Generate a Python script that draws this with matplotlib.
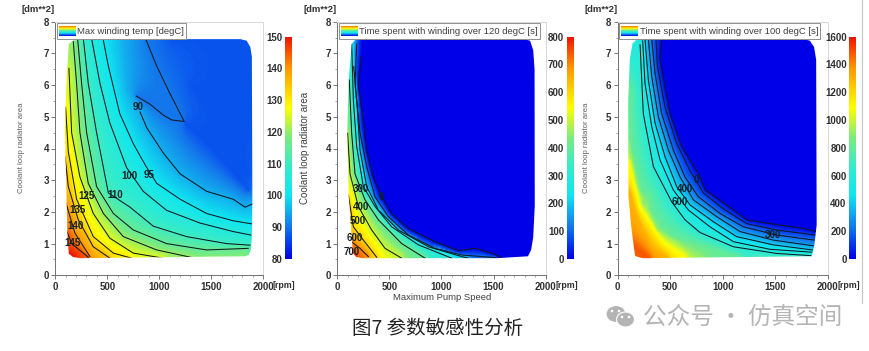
import numpy as np
import matplotlib
matplotlib.use("Agg")
import matplotlib.pyplot as plt
from matplotlib.colors import LinearSegmentedColormap
from matplotlib.patches import Ellipse, PathPatch, Rectangle
from matplotlib.path import Path
from matplotlib.ticker import MultipleLocator

W, H = 870, 351
BODY = ["Liberation Sans", "DejaVu Sans"]
CJK = ["Noto Sans CJK SC", "DejaVu Sans"]

# ---------- readings from the picture: (rpm, dm**2) along each contour ----------
temp_90a = [(870,7.45),(975,6.6),(1100,5.75),(1240,4.85),(1120,4.9),(1040,5.05),(910,5.4),(780,5.65)]
temp_95 = [(815,5.15),(880,4.65),(1040,3.85),(1200,3.2),(1455,2.65),(1710,2.4),(1825,2.15),(1895,2.25)]
temp_100 = [(460,7.45),(510,6.6),(620,5.1),(750,4.15),(870,3.45),(975,2.9),(1200,2.4),(1455,1.95),(1710,1.72),(1895,1.62)]
temp_105 = [(350,7.45),(430,6.05),(525,4.8),(685,3.4),(845,2.65),(1070,2.05),(1390,1.65),(1710,1.38),(1880,1.27)]
temp_110 = [(270,7.45),(317,6.05),(397,4.5),(510,2.6),(718,2.15),(942,1.55),(1263,1.22),(1647,1.0),(1872,.95)]
temp_115 = [(215,7.45),(253,6.05),(301,4.5),(397,2.8),(558,1.95),(750,1.43),(1070,1.0),(1455,.8),(1855,.85)]
temp_120 = [(173,7.37),(205,6.05),(237,4.5),(317,2.9),(462,1.95),(654,1.22),(975,.8),(1343,.54)]
temp_125 = [(131,6.53),(157,4.5),(237,3.1),(365,1.95),(525,1.17),(750,.7),(1038,.54)]
temp_130 = [(99,5.3),(125,3.9),(205,2.4),(365,1.22),(558,.7),(734,.54)]
temp_135 = [(93,3.75),(125,2.8),(221,1.75),(365,.9),(525,.54)]
temp_140 = [(93,2.38),(189,1.33),(333,.59)]
temp_145 = [(100,1.48),(157,1.0),(317,.57)]
temp_levels = [90,95,100,105,110,115,120,125,130,135,140,145]
temp_lines = [temp_90a,temp_95,temp_100,temp_105,temp_110,temp_115,temp_120,temp_125,temp_130,temp_135,temp_140,temp_145]
# colour-only readings (no line drawn in the reference)
temp_fill_87a = [(1300,6.0),(1700,4.5),(1860,3.2)]
temp_fill_87b = [(1100,7.45),(1880,7.45),(1895,4.5)]
temp_fill_87c = [(1250,4.8),(1500,4.0),(1860,2.7)]
temp_fill_95 = [(660,7.45),(700,5.8),(815,5.15)]
temp_fill_119 = [(1343,.54),(1840,.55)]
temp_fill_150 = [(110,.7),(200,.52)]
temp_fill = [(temp_fill_87a,87),(temp_fill_87b,87),(temp_fill_87c,87),(temp_fill_95,95),(temp_fill_119,119),(temp_fill_150,150)]
temp_outline = [(237,7.45),(1780,7.45),(1840,7.4),(1875,7.2),(1890,6.9),(1895,2.4),(1890,1.2),(1880,.8),(1860,.65),(1830,.6),(237,.54),(170,.58),(130,.68),(118,1.2),(93,4.5),(105,6.0),(130,7.3),(170,7.4)]
temp_labels = [("90",800,5.3),("95",900,3.15),("100",715,3.12),("110",580,2.53),("125",300,2.5),("135",210,2.05),("140",190,1.57),("145",170,1.03)]

t120_0 = [(234,6.9),(202,6.05),(250,4.9),(282,3.95),(346,3.1),(426,2.48),(522,1.95),(682,1.48),(938,1.06),(1162,.78),(1322,.85),(1482,.7),(1578,.56)]
t120_100 = [(186,7.3),(170,6.05),(218,4.5),(282,3.43),(362,2.48),(490,1.85),(682,1.27),(938,.85),(1194,.64),(1514,.56)]
t120_200 = [(157,6.58),(186,5.53),(218,3.95),(282,2.8),(394,2.06),(586,1.43),(874,.9),(1194,.59),(1260,.54)]
t120_300 = [(138,7.3),(154,5.53),(186,4.06),(250,2.8),(362,2.17),(522,1.53),(778,.96),(1098,.54)]
t120_400 = [(115,6.16),(138,4.48),(170,3.2),(266,2.38),(394,1.75),(618,1.0),(842,.54)]
t120_500 = [(99,4.48),(122,3.2),(202,2.17),(330,1.43),(458,.85),(618,.54)]
t120_600 = [(106,2.53),(154,1.53),(250,1.11),(378,.57)]
t120_700 = [(120,1.1),(218,.85),(298,.59)]
t120_levels = [0,100,200,300,400,500,600,700]
t120_lines = [t120_0,t120_100,t120_200,t120_300,t120_400,t120_500,t120_600,t120_700]
t120_fill_780 = [(120,.7),(190,.52)]
t120_fill_0a = [(234,6.9),(240,7.45),(1895,7.45),(1895,.56),(1578,.56)]
t120_fill_0b = [(350,6.0),(1800,6.0),(1800,1.0),(1000,1.6),(600,3.0),(350,6.0)]
t120_fill = [(t120_fill_780,780),(t120_fill_0a,0),(t120_fill_0b,0)]
t120_outline = [(210,7.45),(1790,7.45),(1850,7.4),(1880,7.1),(1893,6.5),(1895,2.2),(1880,1.2),(1860,.8),(1830,.6),(1530,.54),(240,.54),(180,.58),(150,.7),(110,2.5),(95,4.5),(110,6.2),(138,7.3),(170,7.42)]
t120_labels = [("300",230,2.73),("400",225,2.17),("500",200,1.7),("600",170,1.17),("700",140,.74),("0",420,2.47)]

t100_0 = [(419,7.45),(403,6.8),(451,5.95),(498,5.1),(610,4.06),(768,3.22),(832,2.7),(1038,2.22),(1229,1.75),(1514,1.6),(1768,1.48),(1895,1.38)]
t100_100 = [(365,7.45),(378,6.6),(451,5.3),(562,4.16),(689,3.3),(816,2.6),(1006,2.1),(1229,1.63),(1514,1.43),(1880,1.27)]
t100_200 = [(324,7.45),(356,6.37),(419,5.1),(530,3.95),(641,3.1),(768,2.48),(975,1.95),(1197,1.53),(1514,1.27),(1873,1.11)]
t100_300 = [(292,7.45),(324,6.27),(387,5.0),(483,3.95),(594,3.1),(721,2.38),(943,1.85),(1165,1.38),(1483,1.11),(1863,.93)]
t100_400 = [(260,7.45),(292,6.16),(356,4.8),(451,3.74),(562,2.8),(689,2.22),(911,1.69),(1133,1.22),(1483,.96),(1854,.8)]
t100_500 = [(238,7.4),(260,6.05),(324,4.69),(403,3.64),(530,2.69),(673,2.06),(879,1.53),(1102,1.06),(1451,.82),(1848,.73)]
t100_600 = [(213,7.27),(244,5.1),(340,3.43),(514,2.32),(641,1.75),(784,1.35),(1102,.9),(1514,.69),(1838,.62)]
t100_levels = [0,100,200,300,400,500,600]
t100_lines = [t100_0,t100_100,t100_200,t100_300,t100_400,t100_500,t100_600]
t100_fill_0a = [(419,7.45),(1895,7.45),(1895,1.38)]
t100_fill_0b = [(600,6.5),(1800,6.5),(1800,2.0),(1100,2.6),(700,4.0),(600,6.5)]
t100_fill_700a = [(1250,.54),(1840,.56)]
t100_fill_800 = [(102,6.0),(130,4.0),(250,2.3),(500,1.25),(1150,.54)]
t100_fill_900 = [(102,4.2),(190,2.8),(380,1.43),(820,.54)]
t100_fill_1100 = [(102,3.6),(205,2.1),(430,1.0),(640,.54)]
t100_fill_1300 = [(102,2.7),(190,1.7),(330,.85),(470,.54)]
t100_fill_1480 = [(120,1.0),(300,.52)]
t100_fill = [(t100_fill_0a,0),(t100_fill_0b,0),(t100_fill_700a,700),(t100_fill_800,800),(t100_fill_900,900),(t100_fill_1100,1100),(t100_fill_1300,1300),(t100_fill_1480,1480)]
t100_outline = [(215,7.45),(1770,7.45),(1830,7.4),(1870,7.2),(1890,6.8),(1895,1.6),(1875,1.0),(1850,.6),(240,.54),(190,.58),(165,.62),(130,1.5),(102,2.5),(100,5.5),(115,6.8),(140,7.3),(175,7.42)]
t100_labels = [("0",745,3.0),("400",645,2.72),("600",590,2.3),("300",1480,1.27)]

cbar_pos = [0,.1,.143,.286,.4,.54,.68,.857,1]
cbar_rgb = ["#0000e8","#0a55ee","#1478eb","#10e6f0","#30ebd0","#78eb82","#ffff00","#ff9800","#f01000"]


def fx(px):
    return px / W


def fy(py):
    return 1 - py / H


def rasterise(segments, nx, ny):
    """Cell values of the read contours on an nx-by-ny raster over the axes range."""
    val = np.full((ny, nx), np.nan)
    for line, lev in segments:
        a = np.array(line, float)
        for (x0, y0), (x1, y1) in zip(a[:-1], a[1:]):
            t = np.linspace(0, 1, 200)
            ix = np.clip(((x0 + (x1 - x0) * t) / 2000 * nx).astype(int), 0, nx - 1)
            iy = np.clip(((y0 + (y1 - y0) * t) / 8 * ny).astype(int), 0, ny - 1)
            val[iy, ix] = lev
    return val


def field_between_contours(segments):
    """Smooth colour surface that passes through every read contour (Laplace relaxation)."""
    z = None
    for nx, ny, steps in [(60, 48, 2500), (120, 96, 1000), (240, 192, 600)]:
        fixed = rasterise(segments, nx, ny)
        mask = ~np.isnan(fixed)
        if z is None:
            z = np.full((ny, nx), np.nanmean(fixed))
        else:
            z = np.repeat(np.repeat(z, 2, axis=0), 2, axis=1)
        z[mask] = fixed[mask]
        for _ in range(steps):
            p = np.pad(z, 1, mode="edge")
            z = 0.25 * (p[:-2, 1:-1] + p[2:, 1:-1] + p[1:-1, :-2] + p[1:-1, 2:])
            z[mask] = fixed[mask]
    return z


jetlike = LinearSegmentedColormap.from_list("solver", list(zip(cbar_pos, cbar_rgb)), N=256)
plt.rcParams["font.family"] = BODY
fig = plt.figure(figsize=(W / 100, H / 100), dpi=100, facecolor="white")


def panel(x0, x1, lines, levels, fill, outline, labels, vmin, vmax, ticks,
          legend, legend_box, legend_text_x, cbar_x, dm_x, rpm_x):
    ax = fig.add_axes([fx(x0), fy(275.3), fx(x1 - x0), (275.3 - 21.7) / H])
    z = field_between_contours(list(zip(lines, levels)) + list(fill))
    im = ax.imshow(z, origin="lower", extent=(0, 2000, 0, 8), aspect="auto", cmap=jetlike,
                   vmin=vmin, vmax=vmax, interpolation="bilinear")
    ax.set_xlim(0, 2000)
    ax.set_ylim(0, 8)
    clip = PathPatch(Path(outline + [outline[0]], closed=True), transform=ax.transData, fc="none", ec="none")
    ax.add_patch(clip)
    im.set_clip_path(clip)
    for line in lines:
        a = np.array(line)
        l, = ax.plot(a[:, 0], a[:, 1], color="#101820", lw=0.75, zorder=3)
        l.set_clip_path(clip)
    for s, x, y in labels:
        ax.text(x, y, s, fontsize=7, fontweight="bold", color="#102028", ha="center", va="center", zorder=4)
    for side in ("top", "right"):
        ax.spines[side].set_color("#d8d8d8")
    for side in ("left", "bottom"):
        ax.spines[side].set_color("#707070")
    for sp in ax.spines.values():
        sp.set_linewidth(0.7)
    ax.xaxis.set_major_locator(MultipleLocator(500))
    ax.xaxis.set_minor_locator(MultipleLocator(100))
    ax.yaxis.set_major_locator(MultipleLocator(1))
    ax.yaxis.set_minor_locator(MultipleLocator(0.5))
    ax.tick_params(which="major", length=3, width=0.6, color="#606060", labelsize=7, pad=1.5, labelcolor="#303030")
    ax.tick_params(which="minor", length=1.5, width=0.5, color="#808080")
    plt.setp(ax.get_xticklabels() + ax.get_yticklabels(), fontweight="bold")

    # legend box
    bx0, bx1 = legend_box
    fig.add_artist(Rectangle((fx(bx0), fy(39)), fx(bx1 - bx0), 16.3 / H, transform=fig.transFigure,
                             fc="white", ec="#909090", lw=0.7, zorder=5))
    sw = fig.add_axes([fx(bx0 + 2), fy(36), fx(16.5), 10.3 / H], zorder=6)
    sw.imshow(np.linspace(1, 0, 64)[:, None], aspect="auto", cmap=jetlike, vmin=0, vmax=1)
    sw.axis("off")
    fig.text(fx(legend_text_x), fy(31.5), legend, fontsize=6.8, color="#404040", va="center", zorder=7)

    # colour bar
    cax = fig.add_axes([fx(cbar_x), fy(259), fx(6.3), (259 - 36.7) / H])
    cax.imshow(np.linspace(vmax, vmin, 256)[:, None], aspect="auto", cmap=jetlike, vmin=vmin, vmax=vmax,
               extent=(0, 1, vmin, vmax))
    cax.set_xticks([])
    cax.set_yticks(ticks)
    cax.tick_params(axis="y", length=0, pad=2, labelsize=7, labelcolor="#303030")
    plt.setp(cax.get_yticklabels(), fontweight="bold")
    for sp in cax.spines.values():
        sp.set_visible(False)

    fig.text(fx(dm_x), fy(9), "[dm**2]", fontsize=6.8, fontweight="bold", color="#303030", ha="center", va="center")
    fig.text(fx(rpm_x), fy(286), "[rpm]", fontsize=6.4, fontweight="bold", color="#303030", ha="center", va="center")
    return ax


panel(55.3, 263.3, temp_lines, temp_levels, temp_fill, temp_outline, temp_labels,
      80, 150, [80,90,100,110,120,130,140,150], "Max winding temp [degC]", (56.7, 186), 77, 285, 37.7, 284)
panel(337.3, 545.7, t120_lines, t120_levels, t120_fill, t120_outline, t120_labels,
      0, 800, [0,100,200,300,400,500,600,700,800], "Time spent with winding over 120 degC [s]", (339.3, 540), 359, 567, 320, 566.7)
panel(617.7, 827.7, t100_lines, t100_levels, t100_fill, t100_outline, t100_labels,
      0, 1600, [0,200,400,600,800,1000,1200,1400,1600], "Time spent with winding over 100 degC [s]", (619.3, 820), 640, 849.3, 600.7, 849)

# axis titles
fig.text(fx(22), fy(148), "Coolant loop radiator area", rotation=90, fontsize=5.6, color="#606060", ha="center", va="center")
fig.text(fx(305), fy(148), "Coolant loop radiator area", rotation=90, fontsize=7, color="#404040", ha="center", va="center")
fig.text(fx(586.7), fy(148), "Coolant loop radiator area", rotation=90, fontsize=5.6, color="#606060", ha="center", va="center")
fig.text(fx(441.7), fy(297), "Maximum Pump Speed", fontsize=6.8, color="#404040", ha="center", va="center")

# caption and watermark
fig.text(fx(438), fy(328), "图7 参数敏感性分析", fontsize=14, color="#222222", ha="center", va="center", family=CJK)
fig.text(fx(643), fy(317), "公众号 · 仿真空间", fontsize=17, color="#b4b4b4", ha="left", va="center", family=CJK)
fig.add_artist(plt.Line2D([fx(861.7)] * 2, [fy(0), fy(303)], color="#c8c8c8", lw=0.8))
for cx, cy, ew, eh in [(616, 314, 20, 17), (625.5, 319.5, 18, 15)]:
    fig.add_artist(Ellipse((fx(cx), fy(cy)), fx(ew), eh / H, transform=fig.transFigure, fc="#b4b4b4", ec="white", lw=0.8))
for cx, cy in [(612, 311), (619, 311), (622, 317), (629, 317)]:
    fig.add_artist(Ellipse((fx(cx), fy(cy)), fx(2.6), 2.6 / H, transform=fig.transFigure, fc="white", ec="none"))

fig.savefig("out.png", dpi=100)
